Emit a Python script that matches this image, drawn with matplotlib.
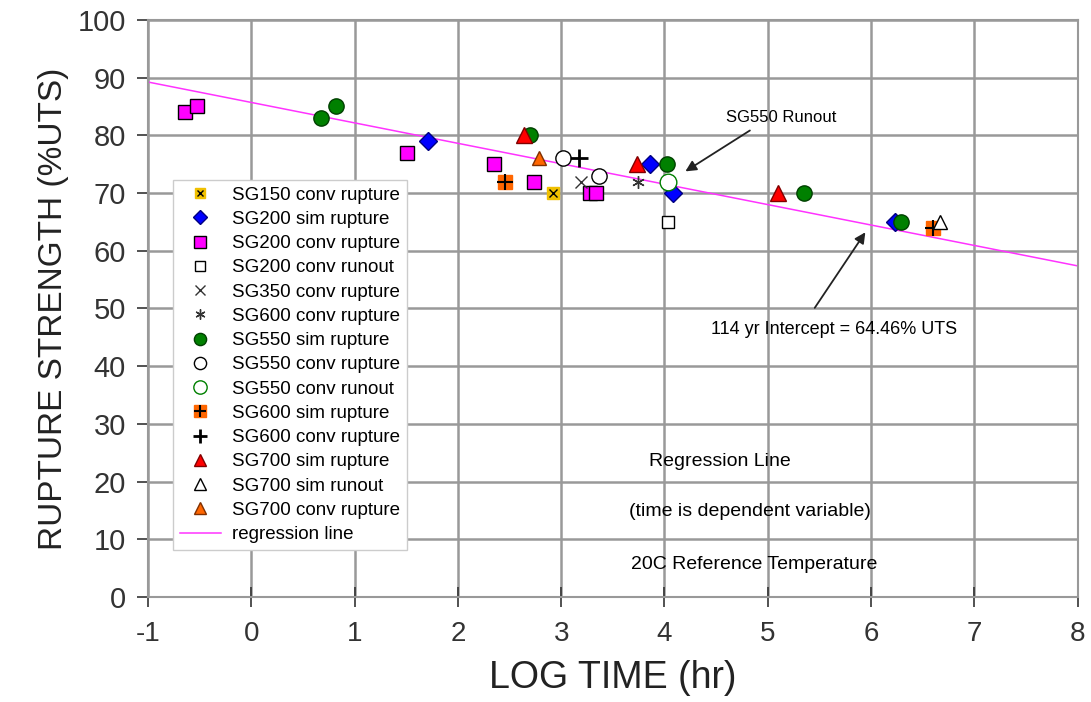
import numpy as np
import matplotlib.pyplot as plt

plt.rcParams['font.family'] = ['Liberation Sans', 'DejaVu Sans']
plt.rcParams['axes.unicode_minus'] = False

# log time (hr), rupture strength (%UTS) per series
sg150_conv_x = [2.92]
sg150_conv_y = [70]
sg200_sim_x = [1.71, 3.86, 4.08, 6.23]
sg200_sim_y = [79, 75, 70, 65]
sg200_conv_x = [-0.64, -0.53, 1.51, 2.35, 2.74, 3.28, 3.34]
sg200_conv_y = [84, 85, 77, 75, 72, 70, 70]
sg200_runout_x = [4.03]
sg200_runout_y = [65]
sg350_conv_x = [3.19]
sg350_conv_y = [72]
sg500_conv_x = [3.74]
sg500_conv_y = [72]
sg550_sim_x = [0.67, 0.82, 2.70, 4.02, 5.35, 6.29]
sg550_sim_y = [83, 85, 80, 75, 70, 65]
sg550_conv_x = [3.02, 3.37]
sg550_conv_y = [76, 73]
sg550_runout_x = [4.03]
sg550_runout_y = [72]
sg600_sim_x = [2.46, 6.60]
sg600_sim_y = [72, 64]
sg600_conv_x = [3.17]
sg600_conv_y = [76]
sg700_sim_x = [2.64, 3.73, 5.10]
sg700_sim_y = [80, 75, 70]
sg700_runout_x = [6.67]
sg700_runout_y = [65]
sg700_conv_x = [2.79]
sg700_conv_y = [76]
reg_x = [-1, 8]
reg_y = [89.24, 57.38]

fig = plt.figure(figsize=(10.91, 7.02), dpi=100)
ax = fig.add_axes([0.1357, 0.1496, 0.852, 0.822])

ms = 9
h150a, = ax.plot(sg150_conv_x, sg150_conv_y, ls='none', marker='s', ms=ms, mfc='#f0c000', mec='#f0c000')
h150b, = ax.plot(sg150_conv_x, sg150_conv_y, ls='none', marker='x', ms=6, mec='black', mew=1)
h200s, = ax.plot(sg200_sim_x, sg200_sim_y, ls='none', marker='D', ms=ms, mfc='#0000ff', mec='#000080')
h200c, = ax.plot(sg200_conv_x, sg200_conv_y, ls='none', marker='s', ms=ms + 1, mfc='#ff00ff', mec='black')
h200r, = ax.plot(sg200_runout_x, sg200_runout_y, ls='none', marker='s', ms=ms, mfc='white', mec='black')
h350, = ax.plot(sg350_conv_x, sg350_conv_y, ls='none', marker='x', ms=ms, mec='#333333', mew=1)
h500, = ax.plot(sg500_conv_x, sg500_conv_y, ls='none', marker=(6, 2, 0), ms=ms, mec='#333333', mew=1)
h550s, = ax.plot(sg550_sim_x, sg550_sim_y, ls='none', marker='o', ms=ms + 2, mfc='#008000', mec='#004000')
h550c, = ax.plot(sg550_conv_x, sg550_conv_y, ls='none', marker='o', ms=ms + 2, mfc='white', mec='black')
h550r, = ax.plot(sg550_runout_x, sg550_runout_y, ls='none', marker='o', ms=ms + 3, mfc='white', mec='#008000')
h600a, = ax.plot(sg600_sim_x, sg600_sim_y, ls='none', marker='s', ms=ms + 1, mfc='#ff6600', mec='#ff6600')
h600b, = ax.plot(sg600_sim_x, sg600_sim_y, ls='none', marker='+', ms=ms + 2, mec='black', mew=1.5)
h600c, = ax.plot(sg600_conv_x, sg600_conv_y, ls='none', marker='+', ms=ms + 4, mec='black', mew=2)
h700s, = ax.plot(sg700_sim_x, sg700_sim_y, ls='none', marker='^', ms=ms + 2, mfc='#ff0000', mec='#800000')
h700r, = ax.plot(sg700_runout_x, sg700_runout_y, ls='none', marker='^', ms=ms + 1, mfc='white', mec='black')
h700c, = ax.plot(sg700_conv_x, sg700_conv_y, ls='none', marker='^', ms=ms + 1, mfc='#ff6600', mec='#803000')
hreg, = ax.plot(reg_x, reg_y, color='#ff33ff', lw=1.1, zorder=1)

ax.set_xlim(-1, 8)
ax.set_ylim(0, 100)
ax.set_xticks(np.arange(-1, 9, 1))
ax.set_yticks(np.arange(0, 101, 10))
ax.grid(True, color='#999999', lw=1.8)
ax.set_axisbelow(True)
for s in ax.spines.values():
    s.set_color('#999999')
    s.set_linewidth(1.5)
ax.tick_params(colors='#333333', width=1.2)
ax.tick_params(axis='y', labelsize=21, length=8, direction='out', pad=8)
ax.tick_params(axis='x', labelsize=20, length=14, direction='inout', pad=10)
ax.set_xlabel('LOG TIME (hr)', fontsize=27, color='#222222', labelpad=10)
ax.set_ylabel('RUPTURE STRENGTH (%UTS)', fontsize=24, color='#222222', labelpad=6)

handles = [(h150a, h150b), h200s, h200c, h200r, h350, h500, h550s, h550c, h550r,
           (h600a, h600b), h600c, h700s, h700r, h700c, hreg]
labels = ['SG150 conv rupture', 'SG200 sim rupture', 'SG200 conv rupture', 'SG200 conv runout',
          'SG350 conv rupture', 'SG600 conv rupture', 'SG550 sim rupture', 'SG550 conv rupture',
          'SG550 conv runout', 'SG600 sim rupture', 'SG600 conv rupture', 'SG700 sim rupture',
          'SG700 sim runout', 'SG700 conv rupture', 'regression line']
leg = ax.legend(handles, labels, loc='upper left', bbox_to_anchor=(0.027, 0.7227), fontsize=13.5,
                frameon=True, fancybox=False, edgecolor='#cccccc', framealpha=1,
                labelspacing=0.38, handlelength=2.2, handletextpad=0.6, borderpad=0.35,
                borderaxespad=0, markerscale=0.8)
leg.get_frame().set_linewidth(1)

ax.text(5.13, 83.1, 'SG550 Runout', fontsize=12, ha='center', va='center')
ax.annotate('', xy=(4.18, 73.5), xytext=(4.85, 81.1),
            arrowprops=dict(arrowstyle='-|>', color='#222222', lw=1.3, mutation_scale=16))
ax.annotate('', xy=(5.96, 63.6), xytext=(5.44, 49.7),
            arrowprops=dict(arrowstyle='-|>', color='#222222', lw=1.3, mutation_scale=16))
ax.text(5.64, 46.3, '114 yr Intercept = 64.46% UTS', fontsize=13, ha='center', va='center')
ax.text(4.54, 23.4, 'Regression Line', fontsize=14, ha='center', va='center')
ax.text(4.83, 14.9, '(time is dependent variable)', fontsize=14, ha='center', va='center')
ax.text(4.87, 5.7, '20C Reference Temperature', fontsize=14, ha='center', va='center')

fig.savefig('out.png', dpi=100)
